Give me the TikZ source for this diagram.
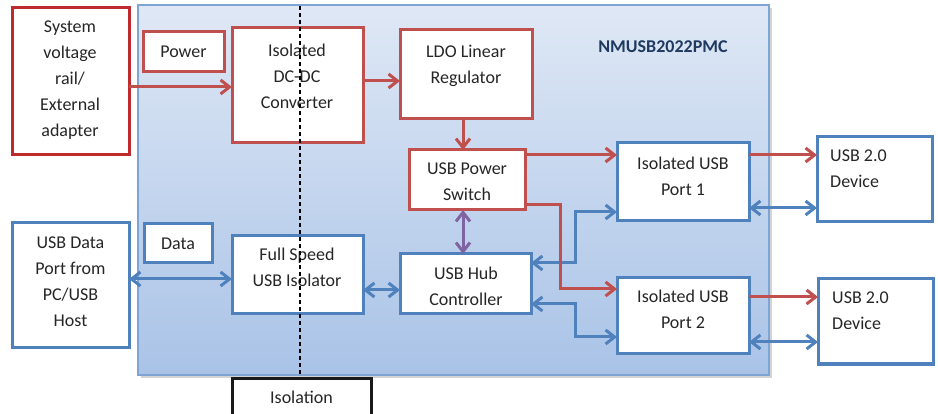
\documentclass[tikz,border=0pt]{standalone}
\usepackage{fontspec}
\setmainfont{Carlito}
\usetikzlibrary{arrows.meta,shadows,calc}
\definecolor{offred}{HTML}{C0504D}
\definecolor{deepred}{HTML}{BE2A2E}
\definecolor{offblue}{HTML}{4F81BD}
\definecolor{offpurple}{HTML}{8064A2}
\definecolor{txtc}{HTML}{262626}
\definecolor{bgtop}{HTML}{DFE8F5}
\definecolor{bgbot}{HTML}{A9C3E7}
\definecolor{bgline}{HTML}{7FA3D3}
\definecolor{navy}{HTML}{1F3A60}
\newcommand\mybox[6]{\node[#6, minimum width={#4-#2}, minimum height={#5-#3}] (#1) at ({(#2+#4)/2},{(#3+#5)/2}) {};}
\begin{document}
\begin{tikzpicture}[x=1pt,y=-1pt,
  box/.style={draw, line width=3pt, fill=white, inner sep=0pt, outer sep=0pt},
  redbox/.style={box, draw=offred},
  deepbox/.style={box, draw=deepred},
  bluebox/.style={box, draw=offblue},
  blackbox/.style={box, draw=black!90},
  txt/.style={font=\fontsize{18}{26}\selectfont, text=txtc, align=center, inner sep=0pt},
  ltxt/.style={txt, align=left, anchor=west},
  tip/.tip={Straight Barb[length=9pt,width=14pt]},
  ra/.style={draw=offred, line width=3pt, -tip},
  ba/.style={draw=offblue, line width=3pt, tip-tip},
  pa/.style={draw=offpurple, line width=3pt, tip-tip},
]
\useasboundingbox (0,0) rectangle (938,414);
% panel
\node[draw=bgline, line width=1.2pt, top color=bgtop, bottom color=bgbot,
  drop shadow={shadow xshift=3pt, shadow yshift=-3pt, opacity=0.35},
  minimum width=631, minimum height=370, inner sep=0pt] (panel) at (453.5,190) {};
\node[font=\fontsize{18}{20}\selectfont\bfseries, text=navy] (title) at (663,47) {NMUSB2022PMC};

% boxes
\mybox{sys}{12}{8}{129}{155}{deepbox}
\mybox{power}{143}{32}{224}{72}{redbox}
\mybox{dcdc}{232}{28}{363}{143}{redbox}
\mybox{ldo}{400}{30}{532}{119}{redbox}
\mybox{sw}{409}{150}{525}{210}{redbox}
\mybox{pone}{617}{143}{749}{221}{bluebox}
\mybox{done}{817}{137}{932}{222}{bluebox}
\mybox{host}{12}{223}{129}{348}{bluebox}
\mybox{data}{144}{224}{212}{263}{bluebox}
\mybox{iso}{232}{236}{363}{314}{bluebox}
\mybox{hub}{400}{254}{531}{314}{bluebox}
\mybox{ptwo}{617}{278}{749}{354}{bluebox}
\mybox{dtwo}{818}{279}{933}{364}{bluebox}
\mybox{isol}{232}{378}{371}{418}{blackbox}

% texts
\node[txt] (sys-t) at (70,80) {System\\voltage\\rail/\\External\\adapter};
\node[txt] (power-t) at (183.5,52) {Power};
\node[txt] (dcdc-t) at (297,76) {Isolated\\DC-DC\\Converter};
\node[txt] (ldo-t) at (466,65.5) {LDO Linear\\Regulator};
\node[txt] (sw-t) at (467,181.5) {USB Power\\Switch};
\node[txt] (pone-t) at (683,176.5) {Isolated USB\\Port 1};
\node[ltxt] (done-t) at (830,169) {USB 2.0\\Device};
\node[txt] (host-t) at (70.5,281.5) {USB Data\\Port from\\PC/USB\\Host};
\node[txt] (data-t) at (178,244) {Data};
\node[txt] (iso-t) at (297,267.5) {Full Speed\\USB Isolator};
\node[txt] (hub-t) at (466,286) {USB Hub\\Controller};
\node[txt] (ptwo-t) at (683,309.5) {Isolated USB\\Port 2};
\node[ltxt] (dtwo-t) at (832,311) {USB 2.0\\Device};
\node[txt] (isol-t) at (301.5,397) {Isolation};

% isolation barrier
\coordinate (bartop) at (300,6);
\coordinate (barbot) at (300,375);
\draw[black, line width=1.2pt, dash pattern=on 4pt off 3pt] (bartop) -- (barbot);

% blue data connectors
\draw[ba] (host.east |- 0,279) -- (iso.west |- 0,279);
\draw[ba] (iso.east |- 0,290) -- (hub.west |- 0,290);
\draw[ba] (hub.east |- 0,263) -| (575,212) -- (pone.west |- 0,212);
\draw[ba] (hub.east |- 0,304) -| (575,337) -- (ptwo.west |- 0,337);
\draw[ba] (pone.east |- 0,208) -- (done.west |- 0,208);
\draw[ba] (ptwo.east |- 0,342) -- (dtwo.west |- 0,342);

% red power connectors
\draw[ra] (sys.east |- 0,87) -- (dcdc.west |- 0,87);
\draw[ra] (dcdc.east |- 0,81) -- (ldo.west |- 0,81);
\draw[ra] (ldo.south -| 463,0) -- (sw.north -| 463,0);
\draw[ra] (sw.east |- 0,155) -- (pone.west |- 0,155);
\draw[ra] (sw.east |- 0,205) -| (560,289) -- (ptwo.west |- 0,289);
\draw[ra] (pone.east |- 0,155) -- (done.west |- 0,155);
\draw[ra] (ptwo.east |- 0,297) -- (dtwo.west |- 0,297);

% control
\draw[pa] (sw.south -| 463,0) -- (hub.north -| 463,0);
\end{tikzpicture}
\end{document}
